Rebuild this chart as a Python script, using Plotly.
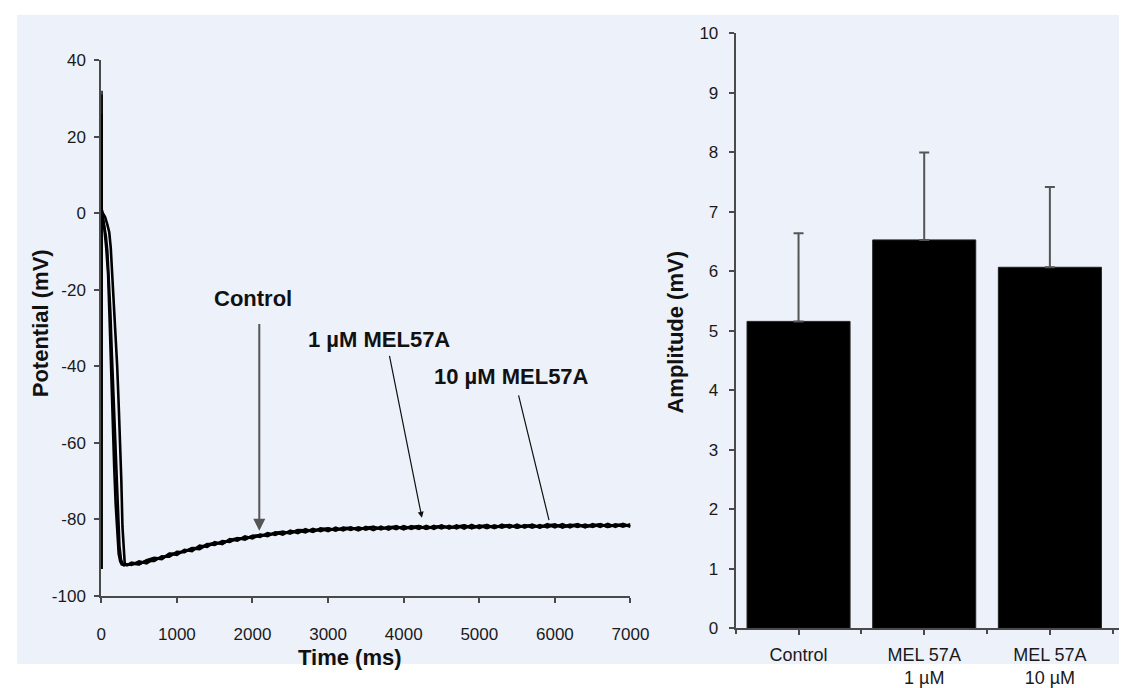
import plotly.graph_objects as go

# ---------------- Action potential recordings (left panel) ----------------
# Early phase: stimulus artifact, spike and repolarisation (ms, mV)
t_early_control = [0, 2, 5, 20, 50, 80, 105, 125, 145, 165, 185, 210, 230, 250, 265, 280, 295, 310, 340, 370]
v_early_control = [-93, 32, 1, 0, -1, -3, -5, -9, -16, -23, -31, -40, -50, -60, -70, -82, -89, -91.5, -92, -91.8]

t_early_1um = [0, 2, 5, 20, 40, 60, 80, 100, 120, 140, 160, 180, 200, 220, 240, 260, 280, 300, 340, 370]
v_early_1um = [-93, 26, 0, -1, -3, -6, -10, -17, -26, -37, -48, -59, -70, -80, -87, -90.5, -91.6, -92, -91.8, -91.7]

t_early_10um = [0, 2, 5, 15, 40, 65, 90, 110, 130, 150, 170, 190, 210, 230, 250, 270, 300, 340, 370]
v_early_10um = [-93, 31, 0, -1, -4, -9, -16, -28, -42, -55, -66, -76, -84, -89, -91, -91.8, -92, -91.8, -91.6]

# Late phase: slow recovery towards rest, sampled every 100 ms
t_late = [400, 500, 600, 700, 800, 900, 1000, 1100, 1200, 1300,
          1400, 1500, 1600, 1700, 1800, 1900, 2000, 2100, 2200, 2300,
          2400, 2500, 2600, 2700, 2800, 2900, 3000, 3100, 3200, 3300,
          3400, 3500, 3600, 3700, 3800, 3900, 4000, 4100, 4200, 4300,
          4400, 4500, 4600, 4700, 4800, 4900, 5000, 5100, 5200, 5300,
          5400, 5500, 5600, 5700, 5800, 5900, 6000, 6100, 6200, 6300,
          6400, 6500, 6600, 6700, 6800, 6900, 7000]

v_late_control = [-91.9, -91.0, -91.5, -90.2, -90.4, -89.0, -89.3, -88.0, -88.3, -86.9,
                  -87.2, -86.0, -86.5, -85.2, -85.6, -84.5, -85.0, -84.0, -84.4, -83.4,
                  -84.0, -83.0, -83.6, -82.6, -83.3, -82.4, -83.1, -82.2, -82.9, -82.1,
                  -82.9, -82.0, -82.8, -81.9, -82.7, -81.8, -82.6, -81.8, -82.5, -81.7,
                  -82.5, -81.6, -82.4, -81.6, -82.4, -81.5, -82.3, -81.5, -82.3, -81.4,
                  -82.2, -81.4, -82.2, -81.4, -82.2, -81.3, -82.1, -81.3, -82.1, -81.3,
                  -82.1, -81.3, -82.0, -81.2, -82.0, -81.2, -81.9]

v_late_1um = [-91.3, -91.7, -90.8, -90.9, -89.7, -89.8, -88.5, -88.6, -87.5, -87.6,
              -86.5, -86.7, -85.7, -85.9, -84.9, -85.3, -84.3, -84.6, -83.6, -84.1,
              -83.3, -83.7, -82.9, -83.4, -82.5, -83.1, -82.4, -82.9, -82.2, -82.8,
              -82.1, -82.7, -82.0, -82.6, -81.9, -82.6, -81.8, -82.5, -81.8, -82.5,
              -81.7, -82.4, -81.7, -82.4, -81.6, -82.3, -81.6, -82.3, -81.6, -82.2,
              -81.5, -82.2, -81.5, -82.2, -81.5, -82.1, -81.4, -82.1, -81.4, -82.0,
              -81.4, -82.0, -81.3, -82.0, -81.3, -81.9, -81.3]

v_late_10um = [-91.6, -91.8, -90.7, -90.1, -90.3, -89.1, -88.9, -88.4, -87.6, -87.8,
               -86.6, -86.2, -86.3, -85.4, -85.0, -85.1, -84.4, -84.1, -84.2, -83.5,
               -83.3, -83.6, -82.8, -82.9, -83.1, -82.5, -82.4, -82.9, -82.3, -82.2,
               -82.7, -82.2, -82.0, -82.6, -82.1, -81.9, -82.5, -82.0, -81.8, -82.4,
               -82.0, -81.7, -82.3, -81.9, -81.6, -82.3, -81.8, -81.6, -82.2, -81.7,
               -81.5, -82.2, -81.7, -81.5, -82.1, -81.6, -81.4, -82.1, -81.6, -81.4,
               -82.0, -81.6, -81.3, -82.0, -81.5, -81.4, -81.9]

potential_ticks = [40, 20, 0, -20, -40, -60, -80, -100]
potential_ticktext = ["40", "20", "0", "-20", "-40", "-60", "-80", "-100"]

# ---------------- Amplitude summary (right panel) ----------------
groups = ["Control", "MEL 57A<br>1 µM", "MEL 57A<br>10 µM"]
amp_mean = [5.16, 6.53, 6.07]
amp_err = [1.48, 1.47, 1.35]

W, H = 1138, 688
SX, SY, OY = 0.986, 0.965, 8.2   # screen placement of the figure canvas


def px(x):
    """Screen column -> paper x."""
    return min(1.0, (x / SX) / W)


def py(y):
    """Screen row -> paper y."""
    return 1 - ((y - OY) / SY) / H


BG = "#EDF1FA"
AX = "#4a4a4a"
FONT = "Liberation Sans, Arial, sans-serif"

fig = go.Figure()

recordings = [
    ("Control", t_early_control + t_late, v_early_control + v_late_control),
    ("1 µM MEL57A", t_early_1um + t_late, v_early_1um + v_late_1um),
    ("10 µM MEL57A", t_early_10um + t_late, v_early_10um + v_late_10um),
]
for name, t, v in recordings:
    fig.add_trace(go.Scatter(x=t, y=v, mode="lines", name=name,
                             line=dict(color="black", width=2.6),
                             xaxis="x", yaxis="y", showlegend=False))

fig.add_trace(go.Bar(
    x=groups, y=amp_mean, width=0.82,
    marker=dict(color="black", line=dict(color="#222", width=1)),
    error_y=dict(type="data", symmetric=False, array=amp_err,
                 arrayminus=[0] * len(amp_err), color="#555",
                 thickness=2, width=5),
    xaxis="x2", yaxis="y2", showlegend=False))

# transparent companion trace so the overlaid axis gets boundary ticks
fig.add_trace(go.Scatter(x=groups, y=amp_mean, mode="markers",
                         marker=dict(opacity=0), hoverinfo="skip",
                         xaxis="x3", yaxis="y2", showlegend=False))


def axis_style(size):
    return dict(showgrid=False, zeroline=False, showline=True,
                linecolor=AX, linewidth=2, ticks="outside", ticklen=5,
                tickwidth=1.5, tickcolor=AX,
                tickfont=dict(family=FONT, size=size, color="#1a1a1a"))


cat_range = [-0.5, 2.55]

fig.update_layout(
    width=W, height=H,
    margin=dict(l=0, r=0, t=0, b=0),
    paper_bgcolor="white", plot_bgcolor="rgba(0,0,0,0)",
    font=dict(family=FONT, color="#111"),
    xaxis=dict(domain=[px(97), px(630)], range=[0, 7000], tick0=0, dtick=1000,
               anchor="y", ticklabelstandoff=17, **axis_style(17)),
    yaxis=dict(domain=[py(603), py(60)], range=[-100, 40],
               tickvals=potential_ticks, ticktext=potential_ticktext,
               anchor="x", ticklabelstandoff=5, **axis_style(17)),
    xaxis2=dict(domain=[px(736), 1.0], type="category", range=cat_range,
                anchor="y2", ticklabelstandoff=4, **axis_style(18)),
    xaxis3=dict(overlaying="x2", type="category", range=cat_range, anchor="y2",
                tickson="boundaries", ticks="outside", ticklen=5, tickwidth=1.5,
                tickcolor=AX, showticklabels=False, showline=False,
                showgrid=False, zeroline=False),
    yaxis2=dict(domain=[py(636), py(33)], range=[0, 10], dtick=1,
                anchor="x2", ticklabelstandoff=7, **axis_style(17)),
    shapes=[dict(type="rect", xref="paper", yref="paper",
                 x0=px(12), x1=1, y0=0, y1=py(14),
                 fillcolor=BG, line=dict(width=0), layer="below")],
)

title_font = dict(family=FONT, size=22, color="#111")
label_font = dict(family=FONT, size=22, color="#111")
centered = dict(xanchor="center", yanchor="middle", showarrow=False)
annotations = [
    dict(text="<b>Potential (mV)</b>", x=px(36), y=py(327), xref="paper", yref="paper",
         textangle=-90, font=title_font, **centered),
    dict(text="<b>Time (ms)</b>", x=px(347), y=py(666), xref="paper", yref="paper",
         font=title_font, **centered),
    dict(text="<b>Amplitude (mV)</b>", x=px(675), y=py(336), xref="paper", yref="paper",
         textangle=-90, font=title_font, **centered),
    # trace labels
    dict(text="<b>Control</b>", x=2010, y=-22.4, xref="x", yref="y",
         font=label_font, **centered),
    dict(text="<b>1 µM MEL57A</b>", x=3680, y=-33.0, xref="x", yref="y",
         font=label_font, **centered),
    dict(text="<b>10 µM MEL57A</b>", x=5420, y=-42.8, xref="x", yref="y",
         font=label_font, **centered),
    # pointers to the traces
    dict(text="", x=2090, y=-83.0, ax=2090, ay=-28.6, xref="x", yref="y",
         axref="x", ayref="y", showarrow=True, arrowhead=2, arrowsize=1.2,
         arrowwidth=2, arrowcolor="#555"),
    dict(text="", x=4241, y=-79.6, ax=3808, ay=-36.9, xref="x", yref="y",
         axref="x", ayref="y", showarrow=True, arrowhead=2, arrowsize=1,
         arrowwidth=1.2, arrowcolor="#111"),
    dict(text="", x=5922, y=-80.2, ax=5515, ay=-47.2, xref="x", yref="y",
         axref="x", ayref="y", showarrow=True, arrowhead=0,
         arrowwidth=1.2, arrowcolor="#111"),
]
fig.update_layout(annotations=annotations)

fig.write_html("out.html")
